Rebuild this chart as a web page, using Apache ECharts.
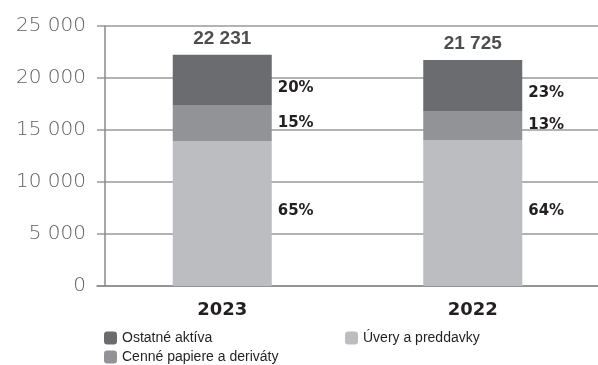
<!DOCTYPE html>
<html>
<head>
<meta charset="utf-8">
<script src="https://cdn.jsdelivr.net/npm/echarts@6/dist/echarts.min.js"></script>
<style>html,body{margin:0;padding:0;background:#fff;}#c{width:598px;height:365px;}</style>
</head>
<body>
<div id="c"></div>
<script>
const categories = ['2023', '2022'];
const loans = [13950, 14040];          // Úvery a preddavky
const securities = [3450, 2790];       // Cenné papiere a deriváty
const other = [4831, 4895];            // Ostatné aktíva
const totals = [22231, 21725];
const pctLoans = ['65%', '64%'];
const pctSecurities = ['15%', '13%'];
const pctOther = ['20%', '23%'];
const yTicks = [0, 5000, 10000, 15000, 20000, 25000];

const fmt = v => String(v).replace(/\B(?=(\d{3})+(?!\d))/g, ' ');
const pctLabel = (arr, dy) => ({
  show: true, position: 'right', distance: 6, offset: [0, dy],
  fontFamily: 'DejaVu Sans', fontWeight: 'bold', fontSize: 15, color: '#231f20',
  formatter: p => arr[p.dataIndex]
});
const legendText = { fontFamily: 'Liberation Sans', fontSize: 14, color: '#231f20' };
const legendBase = { orient: 'vertical', padding: 0, itemWidth: 13, itemHeight: 13, textStyle: legendText };

const chart = echarts.init(document.getElementById('c'));
chart.setOption({
  animation: false,
  grid: { left: 97, right: 0, top: 26, bottom: 79 },
  legend: [
    Object.assign({ left: 104, top: 331, data: ['Ostatné aktíva'] }, legendBase),
    Object.assign({ left: 104, top: 350, data: ['Cenné papiere a deriváty'] }, legendBase),
    Object.assign({ left: 345, top: 331, data: ['Úvery a preddavky'] }, legendBase)
  ],
  xAxis: {
    type: 'category', data: categories,
    axisLine: { lineStyle: { color: '#8a8a8a', width: 1.5 } },
    axisTick: { show: false },
    axisLabel: { margin: 15, fontFamily: 'DejaVu Sans', fontWeight: 'bold', fontSize: 18, color: '#231f20' }
  },
  yAxis: {
    type: 'value', min: yTicks[0], max: yTicks[yTicks.length - 1], interval: 5000,
    offset: -8,
    axisLine: { show: true, lineStyle: { color: '#8a8a8a', width: 1.5 } },
    axisTick: { show: false },
    splitLine: { lineStyle: { color: '#9a9a9a', width: 1.5 } },
    axisLabel: { margin: 19, fontFamily: 'DejaVu Sans', fontWeight: 300, fontSize: 20, color: '#5f6062', formatter: v => fmt(v) }
  },
  series: [
    { name: 'Úvery a preddavky', type: 'bar', stack: 't', data: loans, barWidth: 99,
      itemStyle: { color: '#bcbdc0' }, label: pctLabel(pctLoans, -2) },
    { name: 'Cenné papiere a deriváty', type: 'bar', stack: 't', data: securities,
      itemStyle: { color: '#929396' }, label: pctLabel(pctSecurities, 0) },
    { name: 'Ostatné aktíva', type: 'bar', stack: 't', data: other,
      itemStyle: { color: '#6b6c6f' }, label: pctLabel(pctOther, 8) },
    { name: 'total', type: 'scatter', data: totals, symbolSize: 0, silent: true,
      label: { show: true, position: 'top', distance: 7, fontFamily: 'Liberation Sans', fontWeight: 'bold',
        fontSize: 19, color: '#231f20', formatter: p => fmt(totals[p.dataIndex]) } }
  ]
});
</script>
</body>
</html>
